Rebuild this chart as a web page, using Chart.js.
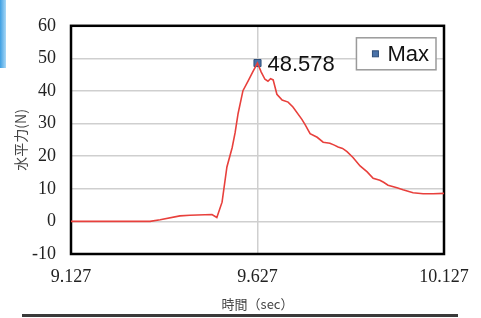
<!DOCTYPE html>
<html>
<head>
<meta charset="utf-8">
<script src="https://cdn.jsdelivr.net/npm/chart.js@4.4.1/dist/chart.umd.min.js"></script>
<style>
  html, body { margin: 0; padding: 0; background: #fff; overflow: hidden; }
  #wrap { position: relative; width: 481px; height: 318px; }
  #strip { position: absolute; left: 0; top: 0; width: 6px; height: 68px; background: linear-gradient(to right, #3e9fe2, #a9d8f6); }
  #rule { position: absolute; left: 22px; top: 314px; width: 436px; height: 3px; background: #3a3a3a; }
  canvas { position: absolute; left: 0; top: 0; }
</style>
</head>
<body>
<div id="wrap">
  <canvas id="c" width="481" height="318"></canvas>
  <div id="strip"></div>
  <div id="rule"></div>
</div>
<script>
// ---- data ----
const times = [9.127, 9.339, 9.366, 9.419, 9.446, 9.505, 9.518, 9.532, 9.545, 9.559, 9.567, 9.575, 9.588, 9.602, 9.615, 9.627,
  9.637, 9.647, 9.655, 9.662, 9.669, 9.679, 9.693, 9.709, 9.722, 9.746, 9.755, 9.768, 9.787, 9.803, 9.821, 9.833, 9.843, 9.855,
  9.867, 9.883, 9.902, 9.921, 9.937, 9.955, 9.965, 9.977, 10.001, 10.017, 10.044, 10.071, 10.098, 10.127];
const force = [0, 0, 0.5, 1.7, 1.9, 2.1, 1.2, 5.9, 16.7, 22.6, 27.2, 33.1, 40.1, 43.1, 46.0, 48.578,
  45.8, 43.6, 43.0, 43.8, 43.4, 39.0, 37.2, 36.6, 35.1, 31.3, 29.6, 26.9, 25.8, 24.3, 24.0, 23.4, 22.8, 22.4,
  21.4, 19.6, 17.0, 15.2, 13.2, 12.6, 12.0, 11.1, 10.3, 9.7, 8.8, 8.5, 8.5, 8.6];
const maxTime = [9.627];
const maxValue = [48.578];
const maxLabel = 'Max';
const xTickValues = [9.127, 9.627, 10.127];
const xTickLabels = ['9.127', '9.627', '10.127'];
const yTitle = '水平力(N)';
const xTitle = '時間（sec）';

const lineData = times.map((t, i) => ({ x: t, y: force[i] }));
const maxData = maxTime.map((t, i) => ({ x: t, y: maxValue[i] }));

const borderPlugin = {
  id: 'areaBorder',
  beforeDatasetsDraw(chart) {
    const { ctx, chartArea: a } = chart;
    ctx.save();
    ctx.strokeStyle = '#000';
    ctx.lineWidth = 2.5;
    ctx.strokeRect(a.left, a.top, a.right - a.left, a.bottom - a.top);
    ctx.restore();
  }
};

const labelPlugin = {
  id: 'maxLabel',
  afterDatasetsDraw(chart) {
    const { ctx, chartArea: a } = chart;
    const meta = chart.getDatasetMeta(1);
    const pt = meta.data[0];
    ctx.save();
    ctx.font = '22px "Liberation Sans", Arial, sans-serif';
    ctx.fillStyle = '#111';
    ctx.textBaseline = 'middle';
    ctx.textAlign = 'left';
    ctx.fillText(maxValue[0].toFixed(3), pt.x + 10, pt.y + 2);

    // legend box
    const tw = ctx.measureText(maxLabel).width;
    const w = 31 + tw + 7, h = 32;
    const bx = a.right - 8 - w, by = a.top + 12;
    ctx.fillStyle = '#fff';
    ctx.fillRect(bx, by, w, h);
    ctx.strokeStyle = '#9a9a9a';
    ctx.lineWidth = 1.5;
    ctx.strokeRect(bx, by, w, h);
    ctx.fillStyle = '#4a72a8';
    ctx.strokeStyle = '#2f4f7a';
    ctx.lineWidth = 1;
    ctx.fillRect(bx + 16, by + 13, 6, 6);
    ctx.strokeRect(bx + 16, by + 13, 6, 6);
    ctx.fillStyle = '#111';
    ctx.fillText(maxLabel, bx + 31, by + h / 2 + 1);
    ctx.restore();
  }
};

new Chart(document.getElementById('c'), {
  type: 'line',
  data: {
    datasets: [
      {
        label: 'force',
        data: lineData,
        borderColor: '#e8403c',
        borderWidth: 1.6,
        pointRadius: 0,
        tension: 0,
        fill: false
      },
      {
        label: maxLabel,
        type: 'scatter',
        data: maxData,
        pointStyle: 'rect',
        pointRadius: 5,
        backgroundColor: '#4a72a8',
        borderColor: '#2f4f7a',
        borderWidth: 1
      }
    ]
  },
  options: {
    responsive: false,
    animation: false,
    devicePixelRatio: 1,
    layout: { padding: { top: 15, right: 37, bottom: 0, left: 0 } },
    plugins: { legend: { display: false }, tooltip: { enabled: false } },
    scales: {
      x: {
        type: 'linear',
        min: 9.127,
        max: 10.127,
        afterBuildTicks: s => { s.ticks = xTickValues.map(v => ({ value: v })); },
        afterFit: s => { s.height = 64; },
        grid: { color: '#cfcfcf', lineWidth: 1.5, drawTicks: false },
        border: { display: false },
        ticks: {
          padding: 12,
          maxRotation: 0,
          autoSkip: false,
          color: '#222',
          font: { family: '"Liberation Serif", "Times New Roman", serif', size: 18 },
          callback: (v, i) => xTickLabels[i]
        },
        title: {
          display: true,
          text: xTitle,
          color: '#444',
          font: { family: '"Noto Sans CJK JP", sans-serif', size: 13 },
          padding: { top: 0, bottom: 6 }
        }
      },
      y: {
        min: -10,
        max: 60,
        afterFit: s => { s.width = 71; },
        grid: { color: '#cfcfcf', lineWidth: 1.5, drawTicks: false },
        border: { display: false },
        ticks: {
          stepSize: 10,
          padding: 15,
          color: '#222',
          font: { family: '"Liberation Serif", "Times New Roman", serif', size: 18 }
        },
        title: {
          display: true,
          text: yTitle,
          color: '#444',
          font: { family: '"Noto Sans CJK JP", sans-serif', size: 14 },
          padding: { top: 12, bottom: 0 }
        }
      }
    }
  },
  plugins: [borderPlugin, labelPlugin]
});
</script>
</body>
</html>
